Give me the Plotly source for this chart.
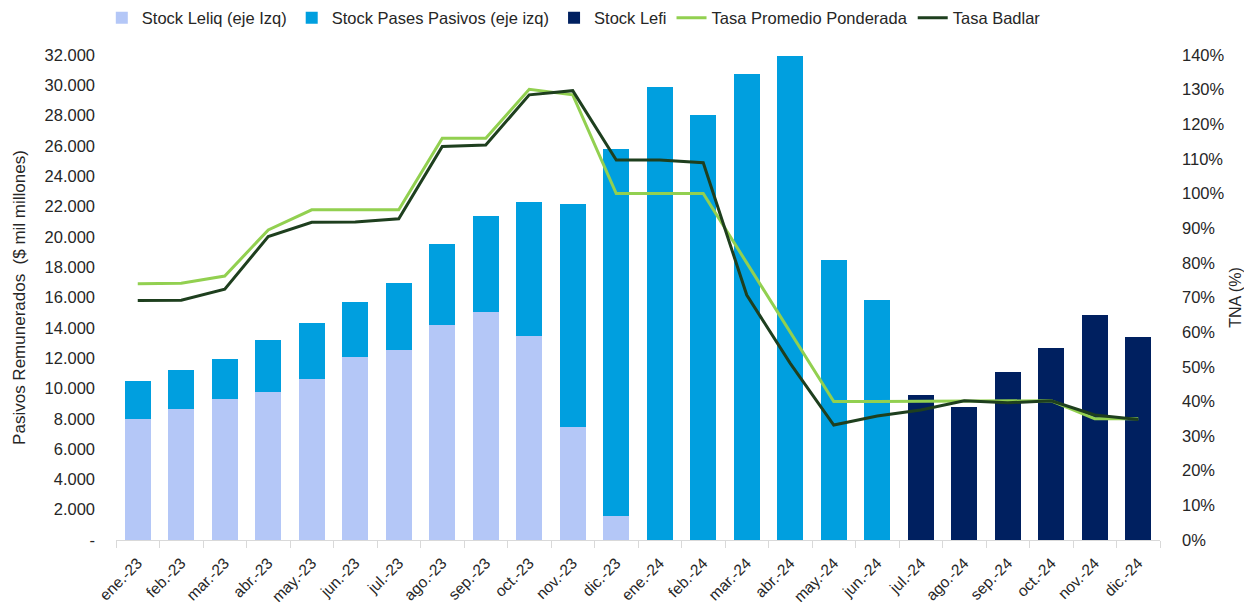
import plotly.graph_objects as go

months = ["ene.-23","feb.-23","mar.-23","abr.-23","may.-23","jun.-23","jul.-23","ago.-23","sep.-23","oct.-23","nov.-23","dic.-23",
          "ene.-24","feb.-24","mar.-24","abr.-24","may.-24","jun.-24","jul.-24","ago.-24","sep.-24","oct.-24","nov.-24","dic.-24"]

leliq = [7980, 8620, 9280, 9740, 10620, 12070, 12540, 14190, 15020, 13480, 7480, 1610,
         None, None, None, None, None, None, None, None, None, None, None, None]
pases = [2510, 2600, 2640, 3430, 3680, 3650, 4440, 5340, 6360, 8840, 14710, 24170,
         29870, 28020, 30750, 31950, 18450, 15860, None, None, None, None, None, None]
lefi = [None]*18 + [9570, 8780, 11110, 12650, 14850, 13420]

tasa_prom = [74.0, 74.1, 76.2, 89.5, 95.3, 95.3, 95.3, 116.0, 116.0, 130.1, 128.5, 100.0,
             100.0, 100.0, 80.0, 60.0, 40.0, 40.0, 40.0, 40.0, 40.0, 40.2, 35.0, 35.0]
badlar = [69.1, 69.2, 72.4, 87.6, 91.7, 91.8, 92.7, 113.6, 114.0, 128.5, 129.7, 109.7,
          109.7, 108.9, 70.7, 51.0, 33.2, 35.8, 37.5, 40.2, 39.6, 40.2, 36.1, 34.8]

left_ticks = list(range(0, 32001, 2000))
left_text = ["-"] + [f"{v:,}".replace(",", ".") for v in left_ticks[1:]]
right_ticks = [v / 100 for v in range(0, 141, 10)]
right_text = [f"{v}%" for v in range(0, 141, 10)]

FONT = "Liberation Sans, Arial, sans-serif"
TXT = "#262626"

fig = go.Figure()
fig.add_bar(x=months, y=leliq, name="Stock Leliq (eje Izq)", marker_color="#B4C7F7", marker_line_width=0)
fig.add_bar(x=months, y=pases, name="Stock Pases Pasivos (eje izq)", marker_color="#009FDF", marker_line_width=0)
fig.add_bar(x=months, y=lefi, name="Stock Lefi", marker_color="#002060", marker_line_width=0)
fig.add_scatter(x=months, y=[v / 100 for v in tasa_prom], name="Tasa Promedio Ponderada", mode="lines",
                line=dict(color="#92D050", width=3), yaxis="y2")
fig.add_scatter(x=months, y=[v / 100 for v in badlar], name="Tasa Badlar", mode="lines",
                line=dict(color="#1E3F1E", width=3), yaxis="y2")

fig.update_layout(
    width=1244, height=608,
    barmode="stack", bargap=0.4,
    plot_bgcolor="white", paper_bgcolor="white",
    margin=dict(l=116, r=84, t=55, b=68, autoexpand=False),
    font=dict(family=FONT, size=16.5, color=TXT),
    legend=dict(orientation="h", x=-0.0136, y=1.076, xanchor="left", yanchor="middle",
                traceorder="normal", font=dict(size=16.5), itemwidth=30, tracegroupgap=0),
    xaxis=dict(type="category", tickangle=-45, showline=True, linecolor="#D9D9D9", linewidth=1,
               ticks="outside", tickson="boundaries", tickcolor="#D9D9D9", ticklen=7,
               showgrid=False, tickfont=dict(size=15.5), ticklabelstandoff=7, automargin=False),
    yaxis=dict(range=[0, 32000], tickvals=left_ticks, ticktext=left_text, showgrid=False,
               zeroline=False, tickfont=dict(size=16.5), ticklabelstandoff=20, automargin=False,
               title=dict(text="Pasivos Remunerados  ($ mil millones)", font=dict(size=17), standoff=14)),
    yaxis2=dict(range=[0, 1.4], tickvals=right_ticks, ticktext=right_text, overlaying="y", side="right",
                showgrid=False, zeroline=False, tickfont=dict(size=16.5), ticklabelstandoff=21,
                automargin=False,
                title=dict(text="TNA (%)", font=dict(size=16), standoff=6)),
)

fig.write_html("out.html", config={"displayModeBar": False},
               post_script="document.body.style.margin='0';document.body.style.overflow='hidden';")
